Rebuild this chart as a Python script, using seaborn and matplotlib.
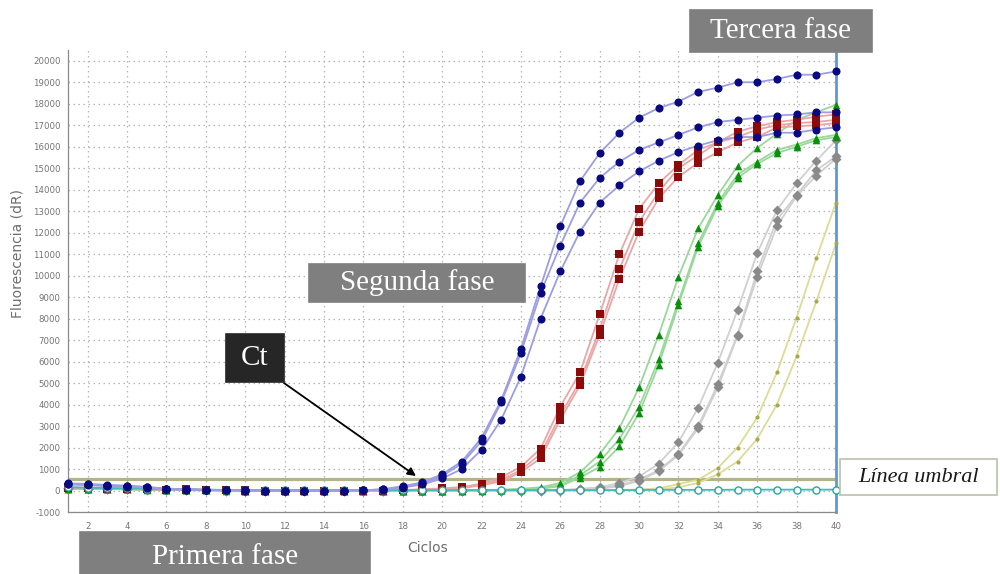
import matplotlib
matplotlib.use("Agg")
import matplotlib.pyplot as plt
import seaborn as sns
import pandas as pd
from matplotlib.patches import Rectangle
from matplotlib.ticker import MultipleLocator

# ---------------- data ----------------
cycles = list(range(1, 41))

blue1 = [330, 310, 260, 230, 170, 90, 60, 40, 20, 10, 0, 0, 0, 0, 0, 10, 60, 200, 380, 760,
         1350, 2450, 4200, 6600, 9500, 12300, 14400, 15700, 16650, 17350,
         17800, 18100, 18550, 18750, 19000, 19000, 19150, 19350, 19350, 19500]
blue2 = [300, 280, 230, 200, 150, 80, 50, 30, 20, 10, 0, 0, 0, 0, 0, 10, 50, 170, 330, 680,
         1250, 2300, 4100, 6400, 9200, 11400, 13400, 14550, 15300, 15850,
         16200, 16550, 16900, 17150, 17250, 17350, 17450, 17500, 17600, 17600]
blue3 = [280, 250, 200, 170, 130, 60, 40, 20, 10, 0, 0, 0, 0, 0, 0, 10, 40, 140, 280, 560,
         1000, 1900, 3300, 5300, 8000, 10200, 12050, 13400, 14200, 14850,
         15350, 15750, 16050, 16300, 16450, 16450, 16650, 16650, 16800, 16900]

red1 = [150, 140, 110, 90, 70, 40, 60, 30, 20, 10, 0, 0, 0, 0, 0, 0, 0, 20, 60, 100,
        160, 320, 620, 1100, 1950, 3900, 5500, 8200, 11000, 13100,
        14300, 15150, 15850, 16200, 16700, 16950, 17150, 17250, 17400, 17500]
red2 = [130, 120, 100, 80, 60, 40, 50, 30, 20, 10, 0, 0, 0, 0, 0, 0, 0, 10, 40, 80,
        130, 280, 500, 950, 1700, 3500, 5100, 7500, 10300, 12500,
        13900, 15000, 15600, 16200, 16450, 16800, 17000, 17100, 17150, 17250]
red3 = [110, 100, 90, 70, 50, 30, 40, 20, 10, 0, 0, 0, 0, 0, 0, 0, 0, 10, 30, 60,
        100, 250, 420, 850, 1500, 3300, 4900, 7250, 9850, 12050,
        13600, 14600, 15250, 15750, 16200, 16450, 16900, 16950, 17000, 17100]

green1 = [100, 90, 80, 70, 50, 40, 30, 20, 10, 0, 0, 0, 0, 0, 0, 0, 0, 0, 0, 0,
          10, 20, 40, 80, 150, 350, 850, 1700, 2900, 4800,
          7250, 9950, 12200, 13750, 15100, 15950, 16600, 17250, 17600, 17950]
green2 = [90, 80, 70, 60, 50, 40, 30, 20, 10, 0, 0, 0, 0, 0, 0, 0, 0, 0, 0, 0,
          0, 10, 30, 50, 100, 250, 700, 1350, 2400, 3900,
          6100, 8800, 11500, 13400, 14700, 15300, 15850, 16100, 16400, 16550]
green3 = [80, 70, 60, 50, 40, 30, 20, 10, 0, 0, 0, 0, 0, 0, 0, 0, 0, 0, 0, 0,
          0, 0, 20, 40, 80, 200, 600, 1100, 2050, 3600,
          5850, 8650, 11350, 13250, 14550, 15200, 15700, 16000, 16300, 16450]

gray1 = [120, 110, 90, 70, 50, 40, 30, 20, 10, 0, 0, 0, 0, 0, 0, 0, 0, 0, 0, 0,
         0, 0, 0, 0, 10, 20, 80, 150, 350, 650,
         1250, 2250, 3850, 5950, 8400, 11050, 13050, 14300, 15350, 16300]
gray2 = [100, 90, 80, 60, 50, 30, 20, 10, 0, 0, 0, 0, 0, 0, 0, 0, 0, 0, 0, 0,
         0, 0, 0, 0, 0, 10, 50, 100, 250, 500,
         950, 1700, 3000, 4950, 7250, 10200, 12600, 13750, 14900, 15550]
gray3 = [90, 80, 70, 60, 40, 30, 20, 10, 0, 0, 0, 0, 0, 0, 0, 0, 0, 0, 0, 0,
         0, 0, 0, 0, 0, 0, 40, 80, 200, 450,
         900, 1650, 2900, 4800, 7200, 9950, 12300, 13700, 14650, 15450]

olive1 = [100, 90, 80, 60, 50, 40, 30, 20, 10, 0, 0, 0, 0, 0, 0, 0, 0, 0, 0, 0,
          0, 0, 0, 0, 0, 0, 0, 0, 20, 50,
          100, 300, 500, 1050, 2000, 3400, 5500, 8050, 10800, 13400]
olive2 = [90, 80, 70, 60, 40, 30, 20, 10, 0, 0, 0, 0, 0, 0, 0, 0, 0, 0, 0, 0,
          0, 0, 0, 0, 0, 0, 0, 0, 10, 30,
          50, 150, 350, 750, 1350, 2400, 4000, 6250, 8800, 11500]

cyan1 = [150, 130, 110, 100, 80, 60, 50, 40, 30, 30, 20, 20, 20, 20, 20, 20, 20, 20, 20, 20,
         20, 20, 20, 20, 20, 20, 20, 20, 20, 20,
         30, 30, 30, 30, 40, 40, 40, 40, 40, 40]

threshold = 550

y_ticks = list(range(-1000, 20001, 1000))
x_ticks = list(range(2, 41, 2))

groups = {
    "olive": [olive1, olive2],
    "gray": [gray1, gray2, gray3],
    "green": [green1, green2, green3],
    "red": [red1, red2, red3],
    "cyan": [cyan1],
    "blue": [blue1, blue2, blue3],
}

rows = []
for g, curves in groups.items():
    for i, vals in enumerate(curves):
        for c, v in zip(cycles, vals):
            rows.append({"cycle": c, "fluor": v, "group": g, "curve": f"{g}{i}"})
df = pd.DataFrame(rows)

styles = {
    "olive": dict(lc="#dcdc98", mc="#a9a94a", m="o", s=9),
    "gray":  dict(lc="#d0d0d0", mc="#8a8a8a", m="D", s=26),
    "green": dict(lc="#9ad89a", mc="#0a8f0a", m="^", s=30),
    "red":   dict(lc="#eaa6a6", mc="#8b0a0a", m="s", s=26),
    "cyan":  dict(lc="#3fbcbc", mc="#2aa5a5", m="o", s=26),
    "blue":  dict(lc="#9d9de2", mc="#0a0a80", m="o", s=34),
}

# ---------------- plot ----------------
sns.set_style("white")
plt.rcParams["font.family"] = ["DejaVu Sans"]
plt.rcParams["axes.unicode_minus"] = False

W, H = 1000, 574
fig = plt.figure(figsize=(10, 5.74), dpi=100)
ax = fig.add_axes([68 / W, 1 - 512 / H, 768 / W, 462 / H])

ax.axhline(threshold, color="#b3b388", lw=2.3, zorder=1.5)

for g in groups:
    st = styles[g]
    sub = df[df["group"] == g]
    sns.lineplot(data=sub, x="cycle", y="fluor", units="curve", estimator=None,
                 color=st["lc"], lw=1.3, ax=ax, legend=False, zorder=2)
    if g == "cyan":
        sns.scatterplot(data=sub, x="cycle", y="fluor", marker="o", s=st["s"],
                        facecolors="white", edgecolor=st["mc"], linewidth=1.0,
                        ax=ax, legend=False, zorder=3, clip_on=False)
    else:
        sns.scatterplot(data=sub, x="cycle", y="fluor", marker=st["m"], s=st["s"],
                        color=st["mc"], edgecolor=st["mc"], linewidth=0,
                        ax=ax, legend=False, zorder=3, clip_on=False)

ax.set_xlim(1, 40)
ax.set_ylim(-1000, 20500)
ax.set_xticks(x_ticks)
ax.set_yticks(y_ticks)
ax.xaxis.set_minor_locator(MultipleLocator(1))
ax.yaxis.set_minor_locator(MultipleLocator(500))
ax.tick_params(axis="both", which="major", direction="inout", length=5, width=0.8,
               colors="#8a8a8a", labelsize=6.2, labelcolor="#747474")
ax.tick_params(axis="both", which="minor", direction="inout", length=3, width=0.6,
               colors="#a0a0a0")
ax.tick_params(axis="x", which="major", pad=5)
ax.tick_params(axis="y", which="major", pad=3)
ax.grid(True, which="major", ls=(0, (1.2, 2.8)), color="#b4b4b4", lw=0.9)
ax.set_xlabel("")
ax.set_ylabel("")

for side in ["left", "bottom"]:
    ax.spines[side].set_color("#8a8a8a")
    ax.spines[side].set_linewidth(0.9)
ax.spines["top"].set_visible(False)
ax.spines["right"].set_color("#5b9bd5")
ax.spines["right"].set_linewidth(2)

fig.text(428 / W, 1 - 548 / H, "Ciclos", fontsize=10, color="#6e6e6e",
         ha="center", va="center")
fig.text(18 / W, 1 - 253 / H, "Fluorescencia (dR)", fontsize=10, color="#6e6e6e",
         ha="center", va="center", rotation=90)


def box(x0, y0, x1, y1, text, fc, tc="white", ec=None, style="normal", fs=21, ty=None):
    fig.patches.append(Rectangle((x0 / W, 1 - y1 / H), (x1 - x0) / W, (y1 - y0) / H,
                                 transform=fig.transFigure, facecolor=fc,
                                 edgecolor=ec if ec else fc, lw=1.2, zorder=5))
    cy = (y0 + y1) / 2 if ty is None else ty
    fig.text((x0 + x1) / 2 / W, 1 - cy / H, text, fontsize=fs, color=tc,
             family="Liberation Serif", style=style, ha="center", va="center", zorder=6)


box(690, 10, 872, 52, "Tercera fase", "#7f7f7f")
box(309, 264, 525, 302, "Segunda fase", "#7f7f7f")
box(226, 334, 284, 382, "Ct", "#262626")
box(80, 532, 370, 580, "Primera fase", "#7f7f7f", ty=557)
box(840, 459, 997, 495, "Línea umbral", "white", tc="#1a1a1a", ec="#b8c4a8",
    style="italic", fs=16)

ax.annotate("", xy=(416 / W, 1 - 476 / H), xycoords="figure fraction",
            xytext=(284 / W, 1 - 383 / H), textcoords="figure fraction",
            arrowprops=dict(arrowstyle="-|>", color="black", lw=1.3,
                            mutation_scale=12, shrinkA=0, shrinkB=0),
            zorder=7, annotation_clip=False)

fig.savefig("out.png", dpi=100)
